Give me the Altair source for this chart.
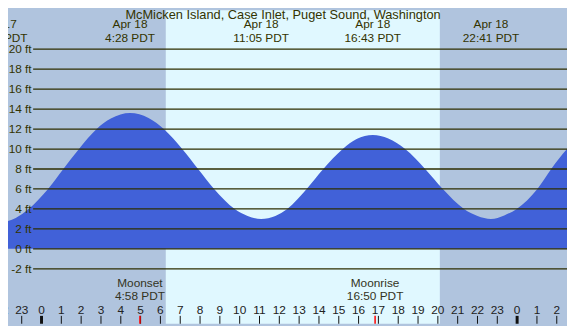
import altair as alt
import pandas as pd

# Tide curve (hours since Apr 18 00:00 PDT, feet)
tide_hours = [-2.3, -2.09, -1.3, -0.65, 0.33, 1.1, 1.89, 2.78, 3.5, 4.47, 5.4, 6.17,
              7.1, 7.9, 8.71, 9.75, 10.4, 11.08, 11.8, 12.4, 13.38, 14.22, 15.2,
              15.9, 16.72, 17.5, 18.35, 19.36, 20.25, 21.32, 22.0, 22.68, 23.35,
              23.98, 25.02, 25.72, 26.52, 26.8]
tide_ft = [2.55, 2.6, 3.1, 4.0, 6.0, 8.0, 10.0, 12.0, 13.05, 13.6, 13.1, 12.0,
           10.0, 8.0, 6.0, 4.0, 3.3, 3.0, 3.3, 4.0, 6.0, 8.0, 10.0,
           11.0, 11.4, 11.05, 10.0, 8.0, 6.0, 4.0, 3.3, 3.0, 3.35,
           4.0, 6.0, 8.0, 10.0, 10.6]

grid_ft = [-2, 0, 2, 4, 6, 8, 10, 12, 14, 16, 18, 20]
grid_labels = ["-2 ft", "0 ft", "2 ft", "4 ft", "6 ft", "8 ft", "10 ft", "12 ft",
               "14 ft", "16 ft", "18 ft", "20 ft"]

hour_ticks = list(range(-2, 27))
hour_labels = ["22", "23", "0", "1", "2", "3", "4", "5", "6", "7", "8", "9", "10", "11",
               "12", "13", "14", "15", "16", "17", "18", "19", "20", "21", "22", "23",
               "0", "1", "2"]
hour_widths = [3 if lab == "0" else 1 for lab in hour_labels]

event_hours = [-2.13, 4.467, 11.083, 16.717, 22.683]
event_dates = ["Apr 17", "Apr 18", "Apr 18", "Apr 18", "Apr 18"]
event_times = ["21:52 PDT", "4:28 PDT", "11:05 PDT", "16:43 PDT", "22:41 PDT"]

sun_hours = [6.27, 20.1]

moon_hours = [4.967, 16.833]
moon_names = ["Moonset", "Moonrise"]
moon_times = ["4:58 PDT", "16:50 PDT"]

title_text = "McMicken Island, Case Inlet, Puget Sound, Washington"

W, H = 567, 318
FONT = "Liberation Sans"
TXT = "#333300"

xs = alt.Scale(domain=[-1.6915, 26.517], nice=False, zero=False)
ys = alt.Scale(domain=[-7.508, 23.906], nice=False, zero=False)

tide = pd.DataFrame({"h": tide_hours, "ft": tide_ft})
grid = pd.DataFrame({"ft": grid_ft, "lab": grid_labels})
hours = pd.DataFrame({"h": hour_ticks, "lab": hour_labels, "w": hour_widths})
events = pd.DataFrame({"h": event_hours,
                       "txt": [d + "\n" + t for d, t in zip(event_dates, event_times)]})
day = pd.DataFrame({"h": [sun_hours[0]], "h2": [sun_hours[1]]})
moon = pd.DataFrame({"h": moon_hours,
                     "txt": [n + "\n" + t for n, t in zip(moon_names, moon_times)]})
title = pd.DataFrame({"t": [title_text]})

X = alt.X("h:Q", scale=xs, axis=None)
Y = alt.Y("ft:Q", scale=ys, axis=None)

day_rect = alt.Chart(day).mark_rect(color="#e0f8ff").encode(
    x=X, x2="h2:Q", y=alt.value(0), y2=alt.value(H))

area = alt.Chart(tide).mark_area(color="#4161d8", interpolate="monotone", clip=True).encode(
    x=X, y=Y, y2=alt.value(H))

rules = alt.Chart(grid).mark_rule(color="#2e2e00", strokeWidth=1.3).encode(
    y=Y, x=alt.value(25.5), x2=alt.value(W))

ylabels = alt.Chart(grid).mark_text(align="right", baseline="middle", font=FONT,
                                    fontSize=12, color=TXT).encode(
    y=Y, x=alt.value(24), text="lab:N")

title_mark = alt.Chart(title).mark_text(align="center", baseline="alphabetic", font=FONT,
                                        fontSize=13, color=TXT).encode(
    x=alt.value(279), y=alt.value(9.3), text="t:N")

ev = alt.Chart(events).mark_text(align="center", baseline="alphabetic", font=FONT,
                                 fontSize=12, color=TXT, lineBreak="\n",
                                 lineHeight=13.5).encode(
    x=X, y=alt.value(18.5), text="txt:N")

hlabels = alt.Chart(hours).mark_text(align="center", baseline="alphabetic", font=FONT,
                                     fontSize=12, color="#222222").encode(
    x=X, y=alt.value(308), text="lab:N")

hticks = alt.Chart(hours).mark_rule(color="#111111").encode(
    x=X, y=alt.value(310), y2=alt.value(H),
    strokeWidth=alt.StrokeWidth("w:Q", scale=None, legend=None))

mticks = alt.Chart(moon).mark_rule(color="#ff0000", strokeWidth=1.5).encode(
    x=X, y=alt.value(310), y2=alt.value(H))

mlabels = alt.Chart(moon).mark_text(align="center", baseline="alphabetic", font=FONT,
                                    fontSize=12, color="#333322", lineBreak="\n",
                                    lineHeight=13.5).encode(
    x=X, y=alt.value(280.8), text="txt:N")

chart = alt.layer(day_rect, area, rules, ylabels, title_mark, ev,
                  hlabels, hticks, mticks, mlabels).properties(
    width=W, height=H, padding=0, autosize=alt.AutoSizeParams(type="none"),
    background="#b0c4de"
).configure_view(stroke=None)

chart.save("out.html", embed_options={"renderer": "svg", "actions": False})
